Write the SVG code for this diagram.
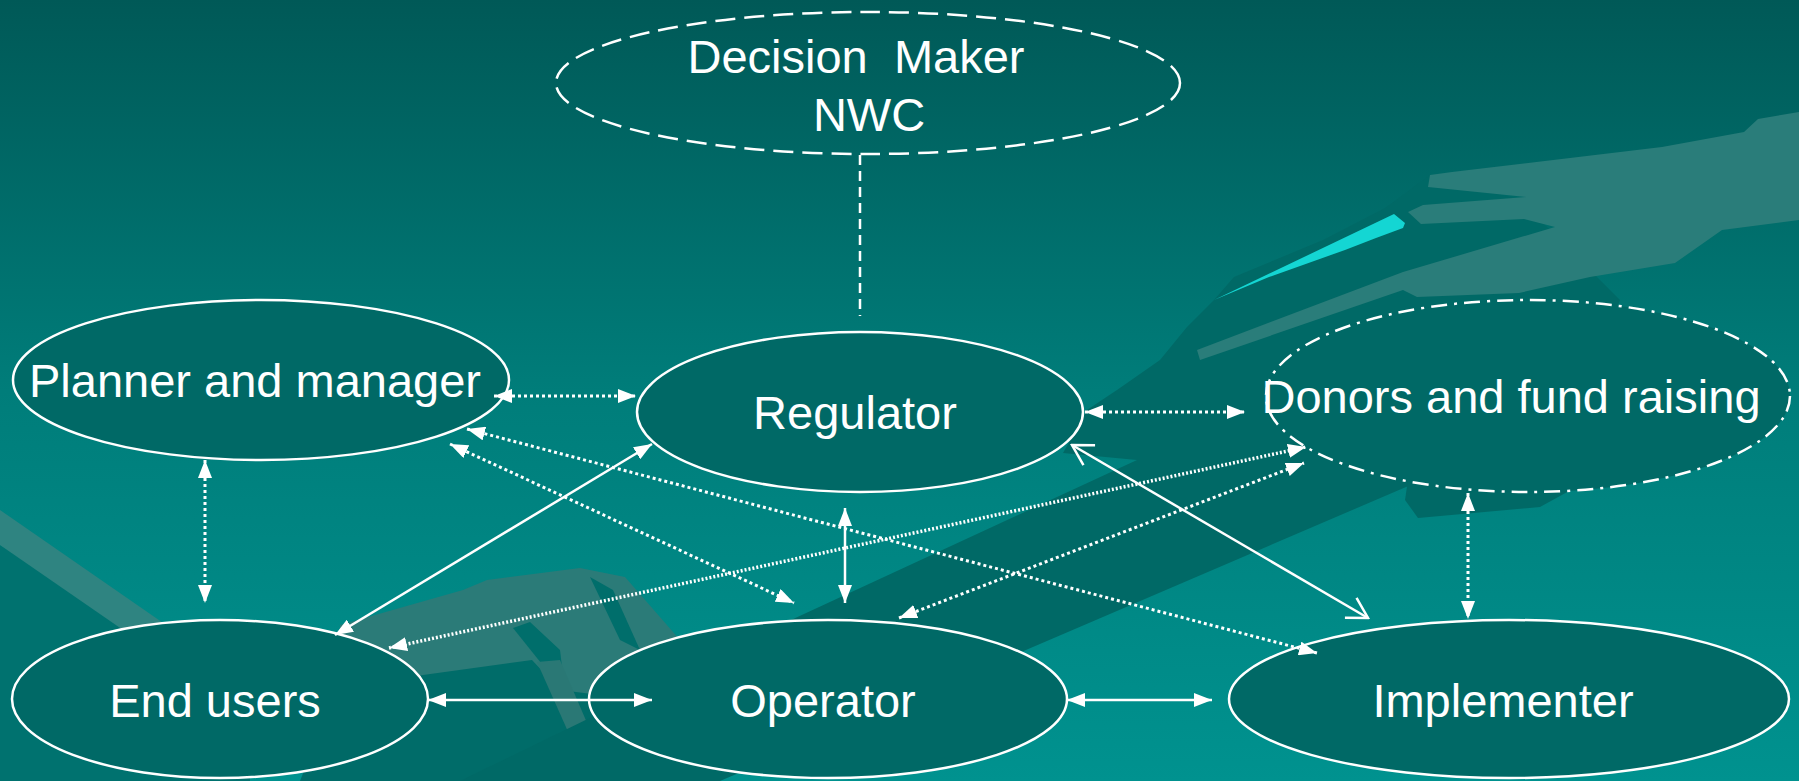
<svg xmlns="http://www.w3.org/2000/svg" width="1799" height="781" viewBox="0 0 1799 781">
<style>
.node{fill:#006966;stroke:#ffffff;stroke-width:2.5}
.lbl{font-family:"Liberation Sans",Arial,sans-serif;font-size:47px;fill:#ffffff;text-anchor:middle}
.solid{stroke:#ffffff;stroke-width:2.5;fill:none}
.dot{stroke:#ffffff;stroke-width:3;stroke-dasharray:3 3;fill:none}
.dotd{stroke:#ffffff;stroke-width:3.5;stroke-dasharray:2 2;fill:none}
.tri{marker-start:url(#ah);marker-end:url(#ah)}
</style>
<defs>
<linearGradient id="bg" x1="0" y1="0" x2="0" y2="1">
<stop offset="0" stop-color="#005957"/>
<stop offset="0.5" stop-color="#007d7a"/>
<stop offset="1" stop-color="#00928f"/>
</linearGradient>
<marker id="ah" viewBox="0 0 18 14" refX="18" refY="7" markerWidth="18" markerHeight="14" markerUnits="userSpaceOnUse" orient="auto-start-reverse">
<path d="M0,0 L18,7 L0,14 z" fill="#ffffff"/>
</marker>
<marker id="ch" viewBox="-2 -2 24 27" refX="20" refY="11.5" markerWidth="24" markerHeight="27" markerUnits="userSpaceOnUse" orient="auto-start-reverse">
<path d="M0,0 L20,11.5 L0,23" fill="none" stroke="#ffffff" stroke-width="2.5"/>
</marker>
</defs>
<g id="background">
<rect x="0" y="0" width="1799" height="781" fill="url(#bg)"/>
<polygon points="0,545 250,700 250,781 0,781" fill="#00726f"/>
<polygon points="0,510 0,545 210,690 260,690" fill="#2f8481"/>
<polygon points="340,680 645,640 645,781 300,781" fill="#006c69"/>
<polygon points="340,625 463,590 487,580 580,568 625,577 680,640 640,700 560,690 532,660 423,675 340,690" fill="#2b7b78"/>
<polygon points="513,628 530,622 560,650 563,675 545,668" fill="#006e6b"/>
<polygon points="537,662 560,660 612,781 590,781" fill="#2a7875"/>
<polygon points="590,577 613,590 640,650 620,640" fill="#006e6b"/>
<polygon points="460,781 791,620 1137,460 1063,453 1087,410 1117,390 1160,360 1187,327 1214,300 1234,277 1323,240 1385,208 1430,175 1520,200 1620,300 1560,440 1420,481 720,781" fill="#006966"/>
<polygon points="1408,480 1405,500 1418,518 1540,507 1580,485" fill="#006966"/>
<polygon points="1430,175 1452,172 1662,147 1744,132 1758,119 1799,112 1799,220 1722,230 1675,263 1590,277 1519,293 1417,297 1403,290 1200,360 1197,350 1403,272 1555,227 1524,219 1421,224 1408,212 1423,205 1526,197 1428,187" fill="#2a7d7a"/>
<polygon points="1214,300 1394,214 1405,223 1403,228 1376,238 1345,250 1269,277" fill="#14d6d3"/>
</g>
<g id="decision-maker">
<ellipse cx="868" cy="83" rx="312" ry="71" fill="none" stroke="#ffffff" stroke-width="2.5" stroke-dasharray="20 9"/>
<text class="lbl" x="856" y="73" xml:space="preserve">Decision  Maker</text>
<text class="lbl" x="869" y="131">NWC</text>
</g>
<g id="planner">
<ellipse class="node" cx="261" cy="380" rx="248" ry="80"/>
<text class="lbl" x="255" y="397">Planner and manager</text>
</g>
<g id="regulator">
<ellipse class="node" cx="860" cy="412" rx="223" ry="80"/>
<text class="lbl" x="855" y="429">Regulator</text>
</g>
<g id="donors">
<ellipse class="node" cx="1528" cy="396" rx="262" ry="96" stroke-dasharray="16 7 3 7"/>
<text class="lbl" x="1511" y="413">Donors and fund raising</text>
</g>
<g id="end-users">
<ellipse class="node" cx="220" cy="699" rx="208" ry="79"/>
<text class="lbl" x="215" y="717">End users</text>
</g>
<g id="operator">
<ellipse class="node" cx="828" cy="699" rx="239" ry="79"/>
<text class="lbl" x="823" y="717">Operator</text>
</g>
<g id="implementer">
<ellipse class="node" cx="1509" cy="699" rx="280" ry="79"/>
<text class="lbl" x="1503" y="717">Implementer</text>
</g>
<g id="connectors">
<line stroke="#ffffff" stroke-width="2.5" stroke-dasharray="10 6" x1="860" y1="155" x2="860" y2="316"/>
<line class="dot tri" x1="494" y1="396" x2="636" y2="396"/>
<line class="dot tri" x1="1085" y1="412" x2="1245" y2="412"/>
<line class="dot tri" x1="205" y1="460" x2="205" y2="603"/>
<line class="dot tri" x1="1468" y1="493" x2="1468" y2="619"/>
<line class="solid tri" x1="428" y1="700" x2="652" y2="700"/>
<line class="solid tri" x1="1067" y1="700" x2="1212" y2="700"/>
<line class="solid tri" x1="845" y1="508" x2="845" y2="603"/>
<line class="solid tri" x1="652" y1="444" x2="335" y2="635"/>
<line class="solid" x1="1072" y1="445" x2="1368" y2="618" marker-start="url(#ch)" marker-end="url(#ch)"/>
<line class="dot tri" x1="450" y1="444" x2="794" y2="603"/>
<line class="dot tri" x1="467" y1="429" x2="1317" y2="653"/>
<line class="dotd tri" x1="389" y1="648" x2="1306" y2="447"/>
<line class="dot tri" x1="899" y1="618" x2="1304" y2="463"/>
</g>
</svg>
